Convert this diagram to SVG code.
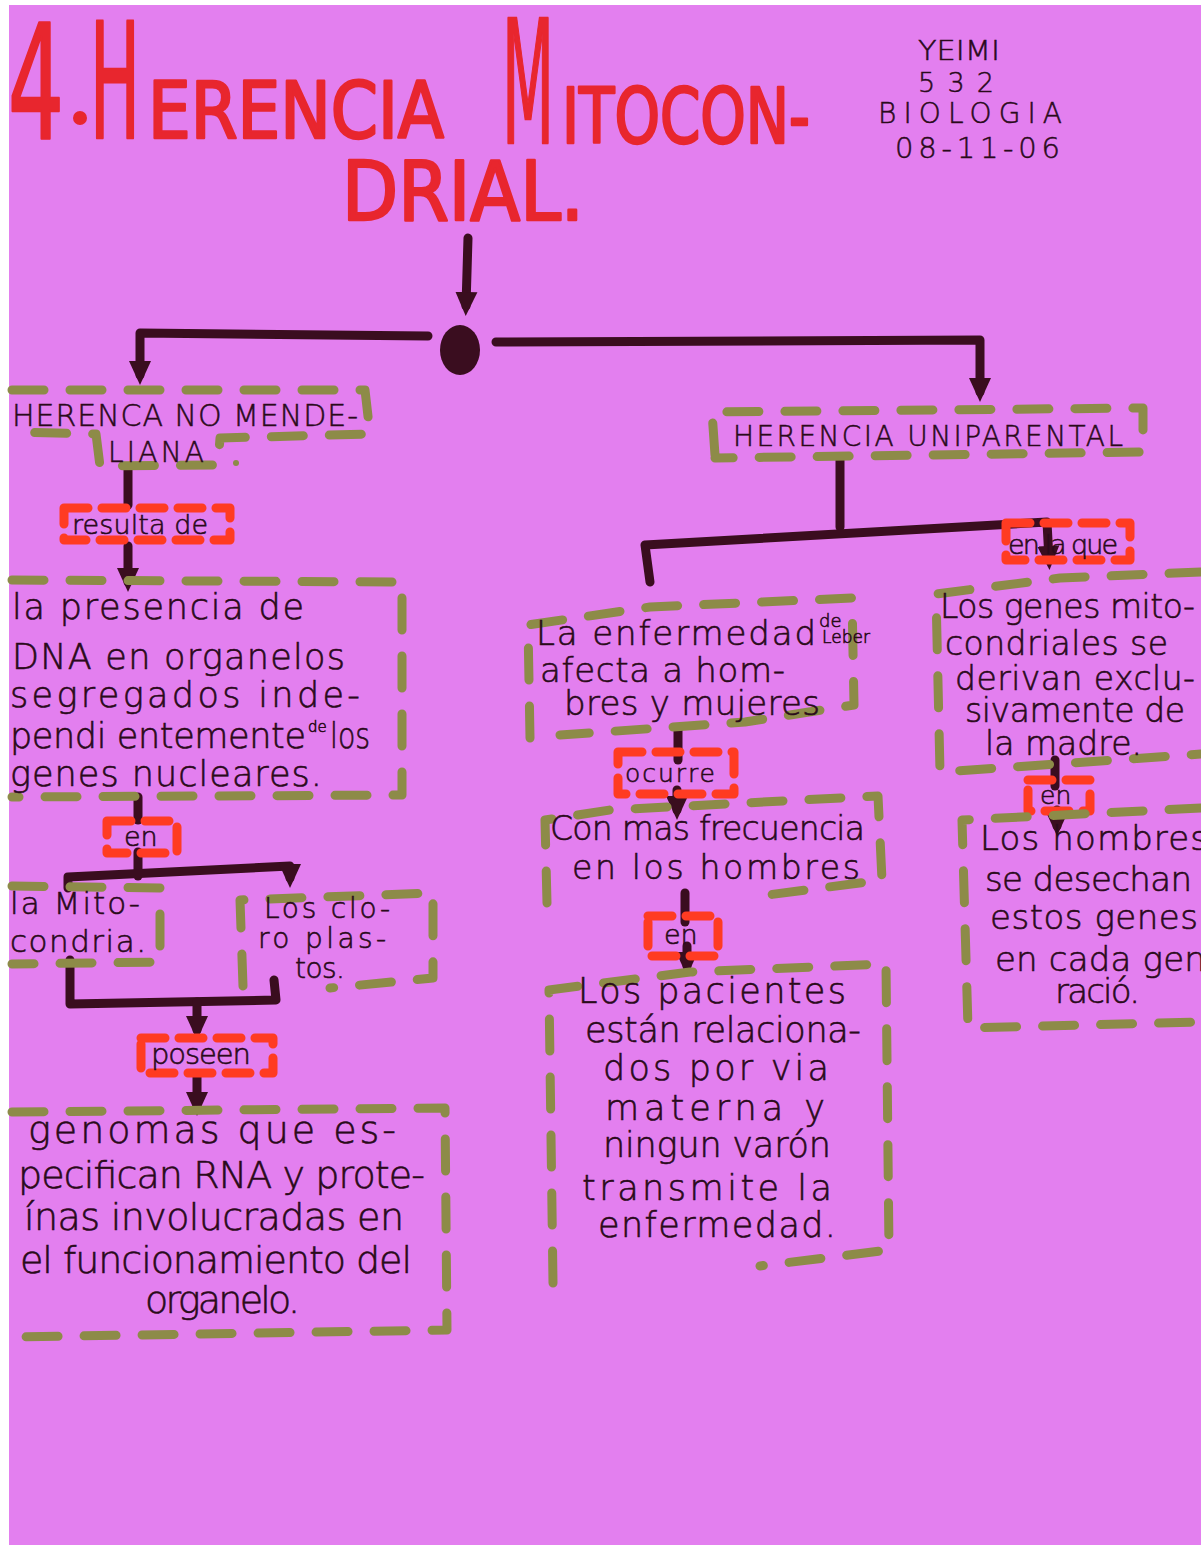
<svg xmlns="http://www.w3.org/2000/svg" width="1201" height="1545" viewBox="0 0 1201 1545">
  <style>
    .title { font-family: "DejaVu Sans Condensed", "DejaVu Sans", sans-serif; font-weight: normal; fill: #e8262e; stroke: #e8262e; stroke-width: 2.5; stroke-linejoin: round; }
    .hand { font-family: "DejaVu Sans", "Liberation Sans", sans-serif; font-weight: 200; fill: #2a0a1a; stroke: #2a0a1a; stroke-width: 0.6; }
    .caps { font-family: "DejaVu Sans", "Liberation Sans", sans-serif; font-weight: 200; fill: #2a0a1a; stroke: #2a0a1a; stroke-width: 0.5; }
    .box { fill: none; stroke: #8d8b48; stroke-width: 9; stroke-linecap: round; stroke-linejoin: round; stroke-dasharray: 32 26; }
    .tag { fill: none; stroke: #ff3b22; stroke-width: 9; stroke-linecap: round; stroke-linejoin: round; stroke-dasharray: 24 14; }
    .link { fill: none; stroke: #3a0d1f; stroke-width: 9; stroke-linecap: round; stroke-linejoin: round; }
    .linkA { fill: none; stroke: #3a0d1f; stroke-width: 9; stroke-linecap: round; stroke-linejoin: round; marker-end: url(#head); }
  </style>
  <defs>
    <marker id="head" viewBox="0 0 24 24" refX="14" refY="12" markerWidth="24" markerHeight="24" markerUnits="userSpaceOnUse" orient="auto">
      <path d="M0,1 L24,12 L0,23 z" fill="#3a0d1f"/>
    </marker>
  </defs>

  <!-- paper -->
  <rect x="0" y="0" width="1201" height="1545" fill="#ffffff"/>
  <rect x="9" y="5" width="1192" height="1540" fill="#e37fef"/>

  <!-- heading -->
  <g id="title">
    <text class="title" x="8" y="138" font-size="158" textLength="56" lengthAdjust="spacingAndGlyphs">4</text>
    <circle cx="80" cy="118" r="7" fill="#e8262e"/>
    <text class="title" x="90" y="138" font-size="160" textLength="50" lengthAdjust="spacingAndGlyphs">H</text>
    <text class="title" x="148" y="138" font-size="78" textLength="296" lengthAdjust="spacingAndGlyphs">ERENCIA</text>
    <text class="title" x="502" y="143" font-size="172" textLength="52" lengthAdjust="spacingAndGlyphs">M</text>
    <text class="title" x="562" y="143" font-size="76" textLength="248" lengthAdjust="spacingAndGlyphs">ITOCON-</text>
    <text class="title" x="342" y="220" font-size="82" textLength="242" lengthAdjust="spacingAndGlyphs">DRIAL.</text>
  </g>

  <g id="author">
    <text class="caps" x="918" y="60" font-size="27" textLength="82" lengthAdjust="spacingAndGlyphs">YEIMI</text>
    <text class="caps" x="918" y="92" font-size="27" textLength="76" lengthAdjust="spacing">532</text>
    <text class="caps" x="878" y="123" font-size="28" textLength="184" lengthAdjust="spacing">BIOLOGIA</text>
    <text class="caps" x="895" y="158" font-size="29" textLength="165" lengthAdjust="spacing">08-11-06</text>
  </g>

  <!-- connectors -->
  <g id="connectors">
    <path class="linkA" d="M468,238 L466,306"/>
    <ellipse cx="460" cy="350" rx="20" ry="25" fill="#3a0d1f"/>
    <path class="linkA" d="M428,336 L140,333 L140,375"/>
    <path class="linkA" d="M496,342 L980,340 L980,392"/>

    <path class="link" d="M128,470 L128,505" stroke-width="14"/>
    <path class="linkA" d="M128,546 L128,582"/>

    <path class="link" d="M138,797 L138,820"/>
    <path class="link" d="M138,852 L138,876"/>
    <path class="linkA" d="M68,888 L68,877 L290,866 L290,878"/>
    <path class="link" d="M70,960 L70,1004 L276,1000 L274,980"/>
    <path class="linkA" d="M197,1002 L197,1030"/>
    <path class="linkA" d="M197,1076 L197,1106"/>

    <path class="link" d="M840,457 L840,527"/>
    <path class="linkA" d="M650,582 L645,545 L1047,522 L1049,560"/>

    <path class="link" d="M678,730 L678,760"/>
    <path class="linkA" d="M677,790 L677,810"/>
    <path class="link" d="M685,893 L685,922"/>
    <path class="linkA" d="M687,946 L687,966"/>

    <path class="link" d="M1055,760 L1055,786"/>
    <path class="linkA" d="M1057,810 L1057,826"/>
  </g>

  <!-- left branch -->
  <g id="herencia-no-mendeliana">
    <path class="box" d="M12,390 L365,390 L370,434 L220,438 L218,465 L100,466 L96,434 L12,432"/>
    <text class="caps" x="12" y="426" font-size="30" textLength="346" lengthAdjust="spacing">HERENCA NO MENDE-</text>
    <text class="caps" x="108" y="462" font-size="28" textLength="96" lengthAdjust="spacing">LIANA</text>
    <circle cx="236" cy="463" r="3" fill="#8d8b48"/>
  </g>

  <g id="tag-resulta-de">
    <rect class="tag" x="64" y="508" width="166" height="32"/>
    <text class="hand" x="72" y="534" font-size="27" textLength="136" lengthAdjust="spacing">resulta de</text>
  </g>

  <g id="presencia-dna">
    <path class="box" d="M12,580 L402,582 L402,795 L12,797"/>
    <text class="hand" x="12" y="619" font-size="35" textLength="292" lengthAdjust="spacing">la presencia de</text>
    <text class="hand" x="12" y="669" font-size="35" textLength="333" lengthAdjust="spacing">DNA en organelos</text>
    <text class="hand" x="10" y="707" font-size="35" textLength="350" lengthAdjust="spacing">segregados inde-</text>
    <text class="hand" x="10" y="748" font-size="35" textLength="296" lengthAdjust="spacing">pendi entemente</text>
    <text class="hand" x="308" y="732" font-size="15">de</text>
    <text class="hand" x="330" y="748" font-size="35" textLength="40" lengthAdjust="spacingAndGlyphs">los</text>
    <text class="hand" x="10" y="786" font-size="35" textLength="312" lengthAdjust="spacing">genes nucleares.</text>
  </g>

  <g id="tag-en-1">
    <rect class="tag" x="107" y="821" width="70" height="32"/>
    <text class="hand" x="124" y="846" font-size="27">en</text>
  </g>

  <g id="mitocondria">
    <path class="box" d="M12,886 L160,888 L160,962 L12,964"/>
    <text class="hand" x="10" y="914" font-size="31" textLength="130" lengthAdjust="spacing">la Mito-</text>
    <text class="hand" x="10" y="952" font-size="31" textLength="136" lengthAdjust="spacing">condria.</text>
  </g>

  <g id="cloroplastos">
    <path class="box" d="M243,986 L240,900 L433,893 L433,978 L330,988"/>
    <text class="hand" x="264" y="918" font-size="28" textLength="126" lengthAdjust="spacing">Los clo-</text>
    <text class="hand" x="258" y="948" font-size="28" textLength="128" lengthAdjust="spacing">ro plas-</text>
    <text class="hand" x="295" y="978" font-size="28" textLength="50" lengthAdjust="spacing">tos.</text>
  </g>

  <g id="tag-poseen">
    <rect class="tag" x="141" y="1038" width="132" height="35"/>
    <text class="hand" x="151" y="1064" font-size="29" textLength="100" lengthAdjust="spacing">poseen</text>
  </g>

  <g id="genomas">
    <path class="box" d="M12,1112 L445,1108 L447,1330 L12,1337"/>
    <text class="hand" x="28" y="1143" font-size="38" textLength="368" lengthAdjust="spacing">genomas que es-</text>
    <text class="hand" x="18" y="1188" font-size="38" textLength="407" lengthAdjust="spacing">pecifican RNA y prote-</text>
    <text class="hand" x="24" y="1230" font-size="38" textLength="380" lengthAdjust="spacing">ínas involucradas en</text>
    <text class="hand" x="20" y="1273" font-size="38" textLength="392" lengthAdjust="spacing">el funcionamiento del</text>
    <text class="hand" x="145" y="1313" font-size="38" textLength="155" lengthAdjust="spacing">organelo.</text>
  </g>

  <!-- right branch -->
  <g id="herencia-uniparental">
    <path class="box" d="M715,455 L712,412 L1143,408 L1143,452 L715,458"/>
    <text class="caps" x="733" y="446" font-size="28" textLength="390" lengthAdjust="spacing">HERENCIA UNIPARENTAL</text>
  </g>

  <g id="tag-en-la-que">
    <rect class="tag" x="1006" y="523" width="124" height="37"/>
    <text class="hand" x="1008" y="554" font-size="27" textLength="110" lengthAdjust="spacing">en la que</text>
  </g>

  <g id="enfermedad-leber">
    <path class="box" d="M530,738 L528,625 L650,607 L852,598 L854,705 L745,722 L560,735"/>
    <text class="hand" x="536" y="645" font-size="34" textLength="280" lengthAdjust="spacing">La enfermedad</text>
    <text class="hand" x="819" y="627" font-size="18">de</text>
    <text class="hand" x="822" y="643" font-size="17">Leber</text>
    <text class="hand" x="540" y="682" font-size="34" textLength="245" lengthAdjust="spacing">afecta a hom-</text>
    <text class="hand" x="564" y="715" font-size="34" textLength="256" lengthAdjust="spacing">bres y mujeres</text>
  </g>

  <g id="tag-ocurre">
    <rect class="tag" x="618" y="752" width="116" height="42"/>
    <text class="hand" x="625" y="782" font-size="25" textLength="90" lengthAdjust="spacing">ocurre</text>
  </g>

  <g id="frecuencia-hombres">
    <path class="box" d="M547,903 L545,820 L610,810 L878,796 L882,880 L760,896"/>
    <text class="hand" x="550" y="840" font-size="33" textLength="315" lengthAdjust="spacing">Con mas frecuencia</text>
    <text class="hand" x="572" y="879" font-size="33" textLength="288" lengthAdjust="spacing">en los hombres</text>
  </g>

  <g id="tag-en-2">
    <rect class="tag" x="648" y="916" width="70" height="40"/>
    <text class="hand" x="664" y="944" font-size="27">en</text>
  </g>

  <g id="pacientes">
    <path class="box" d="M553,1283 L549,990 L690,972 L886,964 L889,1250 L760,1266"/>
    <text class="hand" x="578" y="1003" font-size="35" textLength="268" lengthAdjust="spacing">Los pacientes</text>
    <text class="hand" x="585" y="1042" font-size="35" textLength="276" lengthAdjust="spacing">están relaciona-</text>
    <text class="hand" x="603" y="1080" font-size="35" textLength="226" lengthAdjust="spacing">dos por via</text>
    <text class="hand" x="605" y="1120" font-size="35" textLength="220" lengthAdjust="spacing">materna y</text>
    <text class="hand" x="603" y="1157" font-size="35" textLength="228" lengthAdjust="spacing">ningun varón</text>
    <text class="hand" x="582" y="1200" font-size="35" textLength="250" lengthAdjust="spacing">transmite la</text>
    <text class="hand" x="598" y="1237" font-size="35" textLength="238" lengthAdjust="spacing">enfermedad.</text>
  </g>

  <g id="genes-madre">
    <path class="box" d="M1201,572 L1060,578 L936,594 L940,772 L1201,754"/>
    <text class="hand" x="940" y="618" font-size="33" textLength="255" lengthAdjust="spacing">Los genes mito-</text>
    <text class="hand" x="945" y="655" font-size="33" textLength="223" lengthAdjust="spacing">condriales se</text>
    <text class="hand" x="955" y="690" font-size="33" textLength="240" lengthAdjust="spacing">derivan exclu-</text>
    <text class="hand" x="965" y="722" font-size="33" textLength="220" lengthAdjust="spacing">sivamente de</text>
    <text class="hand" x="985" y="755" font-size="33" textLength="157" lengthAdjust="spacing">la madre.</text>
  </g>

  <g id="tag-en-3">
    <rect class="tag" x="1028" y="780" width="62" height="31"/>
    <text class="hand" x="1040" y="804" font-size="25">en</text>
  </g>

  <g id="hombres-desechan">
    <path class="box" d="M1201,808 L962,820 L968,1028 L1201,1022"/>
    <text class="hand" x="980" y="850" font-size="34" textLength="228" lengthAdjust="spacing">Los hombres</text>
    <text class="hand" x="985" y="891" font-size="34" textLength="207" lengthAdjust="spacing">se desechan</text>
    <text class="hand" x="990" y="929" font-size="34" textLength="208" lengthAdjust="spacing">estos genes</text>
    <text class="hand" x="995" y="971" font-size="34" textLength="232" lengthAdjust="spacing">en cada gene</text>
    <text class="hand" x="1055" y="1003" font-size="34" textLength="85" lengthAdjust="spacing">ració.</text>
  </g>
</svg>
